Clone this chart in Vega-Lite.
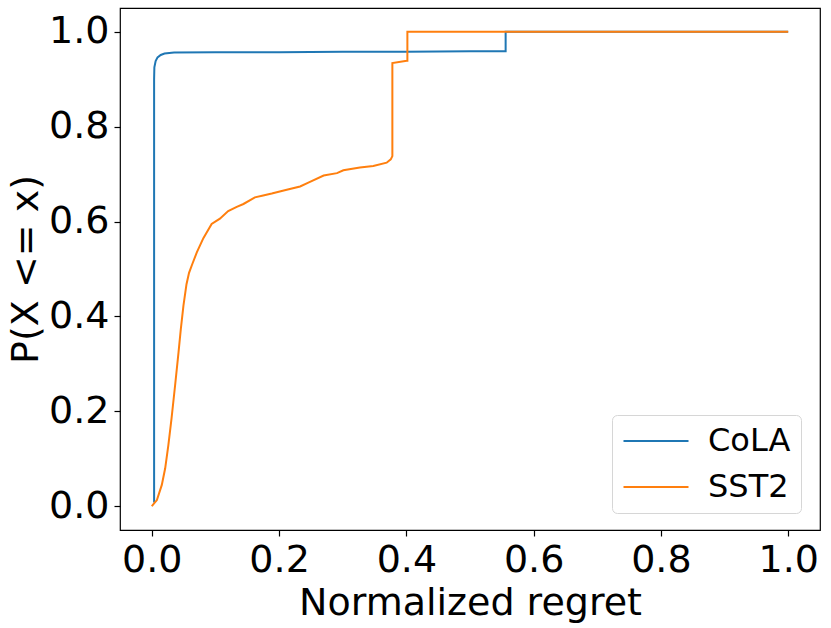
{
  "$schema": "https://vega.github.io/schema/vega-lite/v6.json",
  "width": 700,
  "height": 522,
  "autosize": {"type": "none"},
  "padding": {"left": 120, "top": 8, "right": 11, "bottom": 98},
  "background": "white",
  "config": {
    "font": "DejaVu Sans",
    "view": {"stroke": "#000000", "strokeWidth": 1.2},
    "axis": {
      "domain": false,
      "grid": false,
      "ticks": true,
      "tickColor": "#000000",
      "tickSize": 6,
      "tickWidth": 1.2,
      "labelFont": "DejaVu Sans",
      "labelFontSize": 38,
      "labelColor": "#000000",
      "labelPadding": 5,
      "titleFont": "DejaVu Sans",
      "titleFontSize": 38,
      "titleFontWeight": "normal",
      "titleColor": "#000000"
    }
  },
  "data": {
    "values": [
      {"s": "CoLA", "i": 0, "x": 0.0036, "y": 0.008},
      {"s": "CoLA", "i": 1, "x": 0.0036, "y": 0.9},
      {"s": "CoLA", "i": 2, "x": 0.004, "y": 0.925},
      {"s": "CoLA", "i": 3, "x": 0.006, "y": 0.938},
      {"s": "CoLA", "i": 4, "x": 0.009, "y": 0.946},
      {"s": "CoLA", "i": 5, "x": 0.014, "y": 0.951},
      {"s": "CoLA", "i": 6, "x": 0.02, "y": 0.954},
      {"s": "CoLA", "i": 7, "x": 0.035, "y": 0.956},
      {"s": "CoLA", "i": 8, "x": 0.1, "y": 0.957},
      {"s": "CoLA", "i": 9, "x": 0.2, "y": 0.957},
      {"s": "CoLA", "i": 10, "x": 0.3, "y": 0.958},
      {"s": "CoLA", "i": 11, "x": 0.4, "y": 0.958},
      {"s": "CoLA", "i": 12, "x": 0.5, "y": 0.959},
      {"s": "CoLA", "i": 13, "x": 0.556, "y": 0.959},
      {"s": "CoLA", "i": 14, "x": 0.556, "y": 1.0},
      {"s": "CoLA", "i": 15, "x": 1.0, "y": 1.0},
      {"s": "SST2", "i": 0, "x": 0.0, "y": 0.0},
      {"s": "SST2", "i": 1, "x": 0.0016, "y": 0.003},
      {"s": "SST2", "i": 2, "x": 0.008, "y": 0.013},
      {"s": "SST2", "i": 3, "x": 0.0157, "y": 0.045},
      {"s": "SST2", "i": 4, "x": 0.021, "y": 0.08},
      {"s": "SST2", "i": 5, "x": 0.026, "y": 0.129},
      {"s": "SST2", "i": 6, "x": 0.031, "y": 0.185},
      {"s": "SST2", "i": 7, "x": 0.0366, "y": 0.255},
      {"s": "SST2", "i": 8, "x": 0.042, "y": 0.325},
      {"s": "SST2", "i": 9, "x": 0.0456, "y": 0.374},
      {"s": "SST2", "i": 10, "x": 0.0497, "y": 0.423},
      {"s": "SST2", "i": 11, "x": 0.0545, "y": 0.468},
      {"s": "SST2", "i": 12, "x": 0.0585, "y": 0.492},
      {"s": "SST2", "i": 13, "x": 0.0635, "y": 0.51},
      {"s": "SST2", "i": 14, "x": 0.0707, "y": 0.535},
      {"s": "SST2", "i": 15, "x": 0.081, "y": 0.565},
      {"s": "SST2", "i": 16, "x": 0.094, "y": 0.595},
      {"s": "SST2", "i": 17, "x": 0.107, "y": 0.606},
      {"s": "SST2", "i": 18, "x": 0.12, "y": 0.622},
      {"s": "SST2", "i": 19, "x": 0.1335, "y": 0.631},
      {"s": "SST2", "i": 20, "x": 0.144, "y": 0.637},
      {"s": "SST2", "i": 21, "x": 0.162, "y": 0.651},
      {"s": "SST2", "i": 22, "x": 0.175, "y": 0.655},
      {"s": "SST2", "i": 23, "x": 0.1885, "y": 0.659},
      {"s": "SST2", "i": 24, "x": 0.212, "y": 0.667},
      {"s": "SST2", "i": 25, "x": 0.233, "y": 0.674},
      {"s": "SST2", "i": 26, "x": 0.246, "y": 0.682},
      {"s": "SST2", "i": 27, "x": 0.27, "y": 0.697},
      {"s": "SST2", "i": 28, "x": 0.291, "y": 0.702},
      {"s": "SST2", "i": 29, "x": 0.301, "y": 0.708},
      {"s": "SST2", "i": 30, "x": 0.327, "y": 0.714},
      {"s": "SST2", "i": 31, "x": 0.348, "y": 0.717},
      {"s": "SST2", "i": 32, "x": 0.369, "y": 0.724},
      {"s": "SST2", "i": 33, "x": 0.3755, "y": 0.731},
      {"s": "SST2", "i": 34, "x": 0.378, "y": 0.738},
      {"s": "SST2", "i": 35, "x": 0.378, "y": 0.934},
      {"s": "SST2", "i": 36, "x": 0.4006, "y": 0.939},
      {"s": "SST2", "i": 37, "x": 0.4016, "y": 0.939},
      {"s": "SST2", "i": 38, "x": 0.4016, "y": 1.0},
      {"s": "SST2", "i": 39, "x": 1.0, "y": 1.0}
    ]
  },
  "mark": {"type": "line", "strokeWidth": 2, "clip": true},
  "encoding": {
    "x": {
      "field": "x",
      "type": "quantitative",
      "scale": {"domain": [-0.05, 1.05], "nice": false, "zero": false},
      "axis": {"values": [0, 0.2, 0.4, 0.6, 0.8, 1.0], "format": ".1f", "title": "Normalized regret", "titlePadding": 5}
    },
    "y": {
      "field": "y",
      "type": "quantitative",
      "scale": {"domain": [-0.05, 1.05], "nice": false, "zero": false},
      "axis": {"values": [0, 0.2, 0.4, 0.6, 0.8, 1.0], "format": ".1f", "title": "P(X <= x)", "titlePadding": 3}
    },
    "color": {
      "field": "s",
      "type": "nominal",
      "scale": {"domain": ["CoLA", "SST2"], "range": ["#1f77b4", "#ff7f0e"]},
      "legend": {
        "title": null,
        "orient": "none",
        "legendX": 492,
        "legendY": 407,
        "direction": "vertical",
        "symbolType": "M-2.5,0H2.5",
        "symbolSize": 676,
        "symbolStrokeWidth": 2,
        "symbolOffset": 18,
        "labelFont": "DejaVu Sans",
        "labelFontSize": 32,
        "labelColor": "#000000",
        "labelOffset": 36,
        "rowPadding": 14,
        "padding": 10,
        "fillColor": "rgba(255,255,255,0.8)",
        "strokeColor": "#d6d6d6",
        "cornerRadius": 5
      }
    },
    "order": {"field": "i", "type": "quantitative"}
  }
}
